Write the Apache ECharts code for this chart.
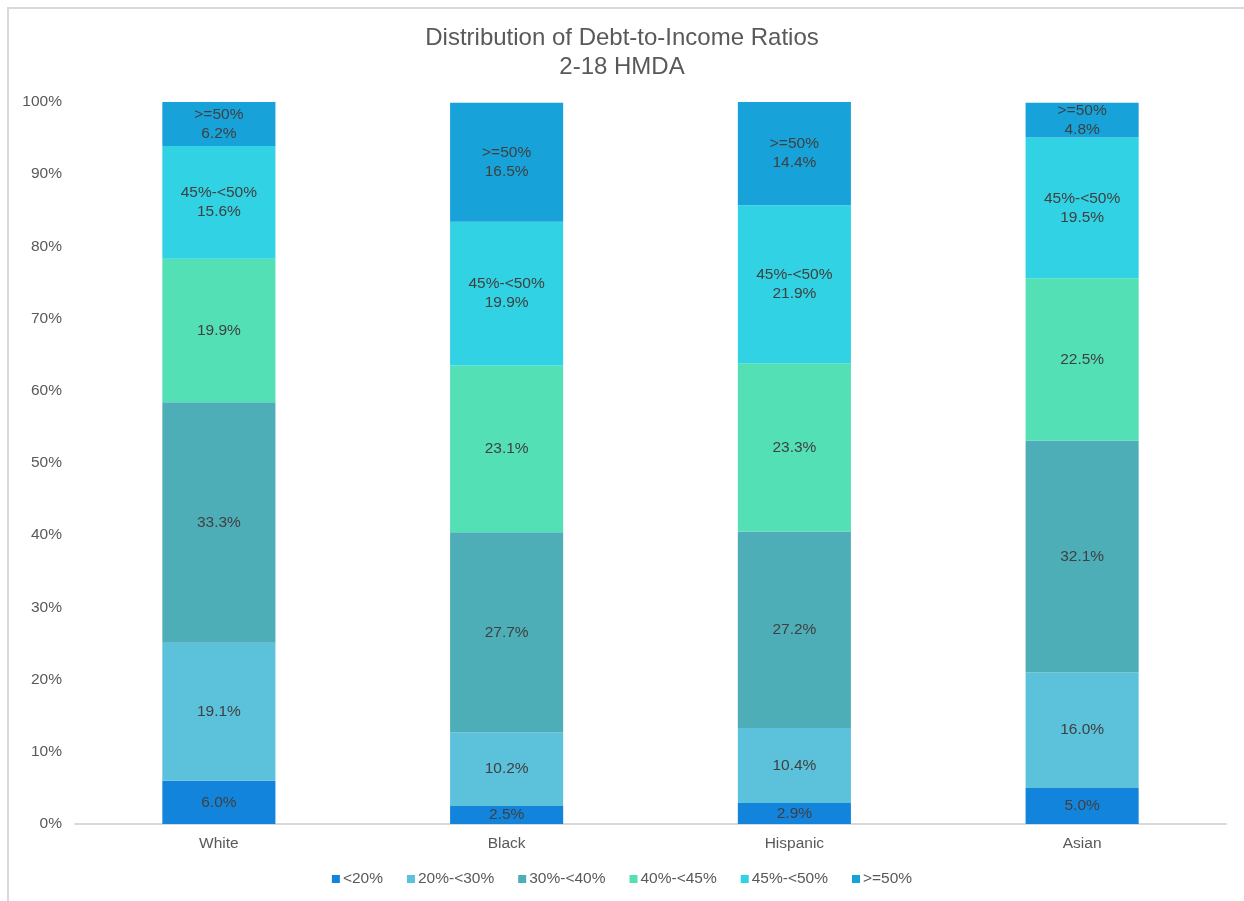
<!DOCTYPE html>
<html>
<head>
<meta charset="utf-8">
<style>
  html, body { margin: 0; padding: 0; background: #ffffff; }
  #frame { position: absolute; left: 7px; top: 7px; width: 1250px; height: 900px; border-left: 2px solid #d9d9d9; border-top: 2px solid #d9d9d9; box-sizing: border-box; }
  #chart { position: absolute; left: 0; top: 0; width: 1244px; height: 901px; }
</style>
<script src="https://cdn.jsdelivr.net/npm/echarts@6/dist/echarts.min.js"></script>
</head>
<body>
<div id="frame"></div>
<div id="chart"></div>
<script>
// Groups along the x axis
const categories = ['White', 'Black', 'Hispanic', 'Asian'];

// Share of loans (%) in each debt-to-income bucket, per group
const lt20     = [6.0, 2.5, 2.9, 5.0];
const r20to30  = [19.1, 10.2, 10.4, 16.0];
const r30to40  = [33.3, 27.7, 27.2, 32.1];
const r40to45  = [19.9, 23.1, 23.3, 22.5];
const r45to50  = [15.6, 19.9, 21.9, 19.5];
const ge50     = [6.2, 16.5, 14.4, 4.8];

const seriesNames = ['<20%', '20%-<30%', '30%-<40%', '40%-<45%', '45%-<50%', '>=50%'];
const yTicks = [0, 10, 20, 30, 40, 50, 60, 70, 80, 90, 100];

const buckets = [lt20, r20to30, r30to40, r40to45, r45to50, ge50];
const colors = ['#1384dc', '#5cc1db', '#4eaeb8', '#53e0b5', '#31d2e3', '#17a2d9'];
const font = 'Liberation Sans, Arial, sans-serif';

const series = buckets.map((vals, i) => ({
  name: seriesNames[i],
  type: 'bar',
  stack: 'dti',
  barWidth: '39.3%',
  data: vals,
  itemStyle: { color: colors[i] },
  label: {
    show: true,
    position: 'inside',
    color: '#404040',
    fontFamily: font,
    fontSize: 15.5,
    lineHeight: 19,
    formatter: i >= 4
      ? p => p.seriesName + '\n' + p.value.toFixed(1) + '%'
      : p => p.value.toFixed(1) + '%'
  },
  emphasis: { disabled: true }
}));

const chart = echarts.init(document.getElementById('chart'), null, { renderer: 'canvas' });
chart.setOption({
  animation: false,
  title: {
    text: 'Distribution of Debt-to-Income Ratios\n2-18 HMDA',
    left: 'center',
    top: 19,
    textStyle: { fontFamily: font, fontSize: 24, fontWeight: 'normal', color: '#595959', lineHeight: 29 }
  },
  legend: {
    bottom: 9,
    left: 'center',
    itemWidth: 8,
    itemHeight: 8,
    itemGap: 24,
    icon: 'rect',
    textStyle: { fontFamily: font, fontSize: 15.5, color: '#595959', padding: [0, 0, 0, -2] },
    data: seriesNames
  },
  grid: { left: 75, right: 18, top: 102, bottom: 77, containLabel: false },
  xAxis: {
    type: 'category',
    data: categories,
    axisLine: { lineStyle: { color: '#d9d9d9', width: 2 } },
    axisTick: { show: false },
    axisLabel: { fontFamily: font, fontSize: 15.5, color: '#595959', margin: 12 }
  },
  yAxis: {
    type: 'value',
    min: yTicks[0],
    max: yTicks[yTicks.length - 1],
    interval: 10,
    splitLine: { show: false },
    axisLine: { show: false },
    axisTick: { show: false },
    axisLabel: { fontFamily: font, fontSize: 15.5, color: '#595959', margin: 13, formatter: v => v + '%' }
  },
  series: series
});
</script>
</body>
</html>
